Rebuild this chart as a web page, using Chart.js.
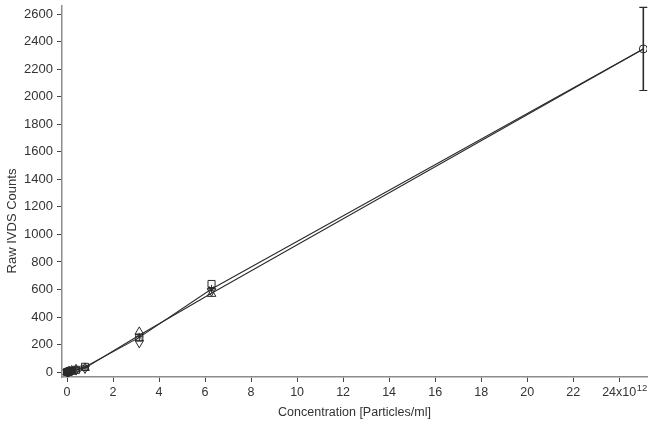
<!DOCTYPE html>
<html>
<head>
<meta charset="utf-8">
<script src="https://cdn.jsdelivr.net/npm/chart.js@4.4.0/dist/chart.umd.min.js"></script>
<style>
    html, body { margin: 0; padding: 0; background: #fff; }
    #chart { display: block; }
</style>
</head>
<body>
<canvas id="chart" width="653" height="425"></canvas>
<script>
// Concentration (x10^12 particles/ml) of each dilution step
var concentration = [0, 0.049, 0.098, 0.196, 0.39, 0.78, 3.14, 6.28];

// Raw counts per marker series
var squareCounts   = [0, 2, 5, 9, 16, 38, 250, 640];
var triangleCounts = [0, 3, 6, 11, 20, 30, 292, 568];
var downTriCounts  = [0, 1, 4, 8, 14, 26, 212, 588];
var starCounts     = [0, 2, 5, 10, 18, 34, 256, 604];

// Highest concentration, shown as mean with error bar
var topConcentration = [25.05];
var topCounts        = [2348];
var topError         = [302];

// The two connecting lines
var lineX       = [0, 0.78, 3.14, 6.28, 25.05];
var lineCountsA = [0, 36, 252, 604, 2348];
var lineCountsB = [0, 30, 268, 572, 2348];

var xTicks = [0, 2, 4, 6, 8, 10, 12, 14, 16, 18, 20, 22, 24];
var yTicks = [0, 200, 400, 600, 800, 1000, 1200, 1400, 1600, 1800, 2000, 2200, 2400, 2600];
var xExponent = '12';

var ink = '#2b2b2b';
var textColor = '#333';
var fontFamily = "'Liberation Sans', Arial, sans-serif";

function toPoints(xs, ys) {
    return xs.map(function(x, i) {
        return {x: x, y: ys[i]};
    });
}

function markerSet(ys, style, radius, rotation) {
    return {
        data: toPoints(concentration, ys),
        showLine: false,
        pointStyle: style,
        pointRadius: radius,
        pointRotation: rotation || 0,
        pointBorderColor: ink,
        pointBackgroundColor: 'rgba(255,255,255,0)',
        pointBorderWidth: 1
    };
}

function lineSet(ys) {
    return {
        data: toPoints(lineX, ys),
        showLine: true,
        borderColor: ink,
        borderWidth: 1.1,
        pointRadius: 0,
        tension: 0
    };
}

/**
 * Vertical error bar with caps on the top point.
 */
var errorBars = {
    id: 'errorBars',
    afterDatasetsDraw: function(chart) {
        var ctx = chart.ctx,
            xScale = chart.scales.x,
            yScale = chart.scales.y;

        ctx.save();
        ctx.strokeStyle = ink;
        topConcentration.forEach(function(x, i) {
            var px = xScale.getPixelForValue(x),
                yHi = yScale.getPixelForValue(topCounts[i] + topError[i]),
                yLo = yScale.getPixelForValue(topCounts[i] - topError[i]);

            ctx.lineWidth = 1.6;
            ctx.beginPath();
            ctx.moveTo(px, yHi);
            ctx.lineTo(px, yLo);
            ctx.stroke();

            ctx.lineWidth = 1.2;
            ctx.beginPath();
            ctx.moveTo(px - 4, yHi);
            ctx.lineTo(px + 4, yHi);
            ctx.moveTo(px - 4, yLo);
            ctx.lineTo(px + 4, yLo);
            ctx.stroke();
        });
        ctx.restore();
    }
};

/**
 * Exponent after the last x tick label, and the y axis title
 * (which sits lower than the plot centre in the original).
 */
var extraText = {
    id: 'extraText',
    afterDraw: function(chart) {
        var ctx = chart.ctx,
            xScale = chart.scales.x,
            last = xTicks[xTicks.length - 1],
            px = xScale.getPixelForValue(last),
            labelY = xScale.top + 5 + 3 + 7;

        ctx.save();
        ctx.fillStyle = textColor;
        ctx.font = '12.5px ' + fontFamily;
        var w = ctx.measureText(last + 'x10').width;
        ctx.font = '9.5px ' + fontFamily;
        ctx.textAlign = 'left';
        ctx.textBaseline = 'middle';
        ctx.fillText(xExponent, px + w / 2 + 0.5, labelY - 4);

        ctx.font = '13px ' + fontFamily;
        ctx.textAlign = 'center';
        ctx.translate(12, 221);
        ctx.rotate(-Math.PI / 2);
        ctx.fillText('Raw IVDS Counts', 0, 0);
        ctx.restore();
    }
};

function axisTicks(values) {
    return function(scale) {
        scale.ticks = values.map(function(v) { return {value: v}; });
    };
}

new Chart(document.getElementById('chart').getContext('2d'), {
    type: 'scatter',
    data: {
        datasets: [
            lineSet(lineCountsA),
            lineSet(lineCountsB),
            markerSet(squareCounts, 'rect', 5),
            markerSet(triangleCounts, 'triangle', 5),
            markerSet(downTriCounts, 'triangle', 5, 180),
            markerSet(starCounts, 'star', 4),
            {
                data: toPoints(topConcentration, topCounts),
                showLine: false,
                pointStyle: 'circle',
                pointRadius: 4,
                pointBorderColor: ink,
                pointBackgroundColor: 'rgba(255,255,255,0)',
                pointBorderWidth: 1
            }
        ]
    },
    options: {
        responsive: false,
        animation: false,
        layout: {padding: {top: 0, right: 1, left: 0, bottom: 0}},
        plugins: {
            legend: {display: false},
            tooltip: {enabled: false}
        },
        scales: {
            x: {
                type: 'linear',
                min: -0.22,
                max: 25.21,
                border: {color: '#8c8c8c', width: 1.5},
                grid: {drawOnChartArea: false, drawTicks: true, tickLength: 5, color: '#444', tickWidth: 1},
                ticks: {
                    color: textColor,
                    padding: 3,
                    maxRotation: 0,
                    autoSkip: false,
                    font: {size: 12.5, family: fontFamily},
                    callback: function(value) {
                        return value === 24 ? '24x10' : String(value);
                    }
                },
                title: {
                    display: true,
                    text: 'Concentration [Particles/ml]',
                    color: textColor,
                    font: {size: 12.5, family: fontFamily},
                    padding: {top: 0, bottom: 5}
                },
                afterBuildTicks: axisTicks(xTicks),
                afterFit: function(scale) {
                    scale.height = 48;
                    scale.paddingLeft = 0;
                    scale.paddingRight = 0;
                }
            },
            y: {
                type: 'linear',
                min: -36,
                max: 2660,
                border: {color: '#8c8c8c', width: 1.5},
                grid: {drawOnChartArea: false, drawTicks: true, tickLength: 5, color: '#444', tickWidth: 1},
                ticks: {
                    color: textColor,
                    padding: 4,
                    autoSkip: false,
                    font: {size: 13, family: fontFamily},
                    callback: function(value) { return String(value); }
                },
                afterBuildTicks: axisTicks(yTicks),
                afterFit: function(scale) {
                    scale.width = 62;
                    scale.paddingTop = 0;
                    scale.paddingBottom = 0;
                }
            }
        }
    },
    plugins: [errorBars, extraText]
});
</script>
</body>
</html>
